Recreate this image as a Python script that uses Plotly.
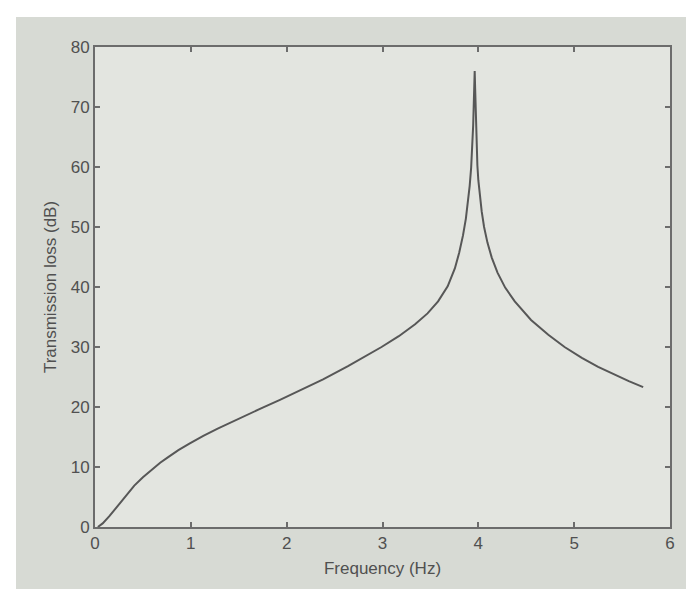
import plotly.graph_objects as go

# frequency (Hz) and transmission loss (dB)
freq = [0.03, 0.08, 0.15, 0.24, 0.33, 0.41, 0.5, 0.585, 0.68, 0.76, 0.87, 0.985,
        1.13, 1.28, 1.45, 1.6, 1.75, 1.93, 2.12, 2.38, 2.64, 2.82, 2.99, 3.17,
        3.34, 3.47, 3.58, 3.68, 3.755, 3.8, 3.84, 3.87, 3.894, 3.91, 3.925,
        3.937, 3.946, 3.953, 3.958, 3.962, 3.967, 3.972, 3.978, 3.985, 3.99,
        4.0, 4.015, 4.035, 4.06, 4.095, 4.14, 4.2, 4.28, 4.38, 4.55, 4.73, 4.9,
        5.08, 5.25, 5.42, 5.57, 5.72]
loss = [0.0, 0.6, 1.8, 3.6, 5.4, 6.9, 8.3, 9.5, 10.7, 11.6, 12.8, 13.9,
        15.2, 16.4, 17.7, 18.8, 19.9, 21.2, 22.6, 24.6, 26.8, 28.4, 30.0, 31.8,
        33.8, 35.6, 37.6, 40.1, 43.1, 45.7, 48.6, 51.4, 54.2, 56.9, 59.9,
        63.4, 66.9, 70.9, 74.4, 76.0, 73.0, 69.0, 65.3, 62.2, 60.3,
        57.8, 55.2, 52.6, 50.0, 47.4, 44.9, 42.4, 39.9, 37.6, 34.5, 32.05, 30.0,
        28.2, 26.7, 25.4, 24.3, 23.3]

x_ticks = [0, 1, 2, 3, 4, 5, 6]
y_ticks = [0, 10, 20, 30, 40, 50, 60, 70, 80]

axis_col = "#6c6c6c"
text_col = "#505050"
font_name = "Liberation Sans"

fig = go.Figure(go.Scatter(x=freq, y=loss, mode="lines",
                           line=dict(color="#575757", width=2),
                           showlegend=False, hoverinfo="skip"))

axis_style = dict(showline=True, linecolor=axis_col, linewidth=2, mirror="ticks",
                  ticks="inside", ticklen=5, tickwidth=1.5, tickcolor=axis_col,
                  showgrid=False, zeroline=False,
                  tickfont=dict(family=font_name, size=17, color=text_col))

fig.update_xaxes(range=[0, 6], tickvals=x_ticks,
                 title=dict(text="Frequency (Hz)", standoff=10,
                            font=dict(family=font_name, size=17, color=text_col)),
                 **axis_style)
fig.update_yaxes(range=[0, 80], tickvals=y_ticks,
                 title=dict(text="Transmission loss (dB)", standoff=10,
                            font=dict(family=font_name, size=17, color=text_col)),
                 **axis_style)

# photo border strips around the figure
fig.add_shape(type="rect", xref="paper", yref="paper", x0=-0.2, x1=1.1,
              y0=1.0625, y1=1.1, fillcolor="white", line_width=0, layer="below")
fig.add_shape(type="rect", xref="paper", yref="paper", x0=-0.2, x1=-0.1374,
              y0=-0.2, y1=1.1, fillcolor="white", line_width=0, layer="below")
fig.add_shape(type="rect", xref="paper", yref="paper", x0=-0.2, x1=1.1,
              y0=-0.2, y1=-0.1375, fillcolor="#a9bcc4", line_width=0, layer="below")

fig.update_layout(width=694, height=589,
                  margin=dict(l=87, r=32, t=39, b=70, autoexpand=False),
                  paper_bgcolor="#d7dad4", plot_bgcolor="#e3e5e0")

fig.write_html("out.html")
